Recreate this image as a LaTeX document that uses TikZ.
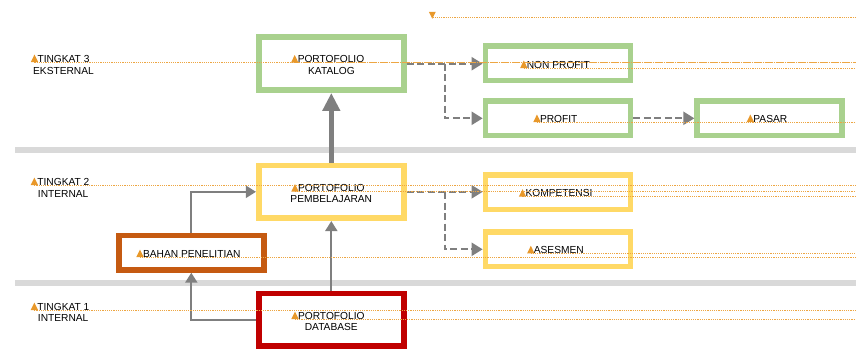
\documentclass[tikz,border=0pt]{standalone}
\usepackage{fontspec}
\setmainfont{Liberation Sans}
\usetikzlibrary{arrows.meta,calc}
\definecolor{grn}{HTML}{A9D18E}
\definecolor{ylw}{HTML}{FFD966}
\definecolor{org}{HTML}{C55A11}
\definecolor{rd}{HTML}{C00000}
\definecolor{arr}{HTML}{7F7F7F}
\definecolor{bandgray}{HTML}{D9D9D9}
\definecolor{dot}{HTML}{E8982A}
\definecolor{dotln}{HTML}{EDA643}
\begin{document}
\begin{tikzpicture}[x=1pt,y=-1pt,
  box/.style={draw,line width=5.7pt,minimum width=145pt,minimum height=34.3pt,inner sep=0pt,fill=white},
  tall/.style={minimum height=52.8pt},
  txt/.style={anchor=base,inner sep=0pt,font=\fontsize{10.2}{12}\selectfont},
  dotl/.style={draw=dotln,line width=0.95pt,dash pattern=on 1.2pt off 1pt},
  garrow/.style={draw=arr,line width=2pt,-{Triangle[length=10pt,width=12pt]}},
  darrow/.style={draw=arr,line width=2.2pt,dash pattern=on 7pt off 3.5pt,-{Triangle[length=11pt,width=13pt]}},
  ]
\useasboundingbox (0,0) rectangle (856,349);
% bands
\fill[bandgray] (15,147.3) rectangle (856,153.3);
\fill[bandgray] (15,279.5) rectangle (856,285.5);
% boxes
\node[box,tall,draw=grn] (kat) at (331.3,63.7) {};
\node[box,draw=grn] (np) at (558,63.3) {};
\node[box,draw=grn] (pr) at (558,118.3) {};
\node[box,draw=grn] (pas) at (769.7,118.3) {};
\node[box,tall,draw=ylw] (pem) at (331.3,191.8) {};
\node[box,draw=ylw] (kom) at (558,192.3) {};
\node[box,draw=ylw] (ase) at (558,249.3) {};
\node[box,draw=org] (bah) at (191.3,252.7) {};
\node[box,tall,draw=rd] (db) at (331.3,319.8) {};
% texts
\node[txt] (l3a) at (63.5,62) {TINGKAT 3};
\node[txt] (l3b) at (63.5,74) {EKSTERNAL};
\node[txt] (l2a) at (63.4,185) {TINGKAT 2};
\node[txt] (l2b) at (63.2,197) {INTERNAL};
\node[txt] (l1a) at (63.4,310) {TINGKAT 1};
\node[txt] (l1b) at (63.2,321.5) {INTERNAL};
\node[txt] (kat1) at (331,62.5) {PORTOFOLIO};
\node[txt] (kat2) at (331.5,74) {KATALOG};
\node[txt] (np1) at (558.3,68) {NON PROFIT};
\node[txt] (pr1) at (558.7,122) {PROFIT};
\node[txt] (pas1) at (770.3,122) {PASAR};
\node[txt] (pem1) at (331.3,191.5) {PORTOFOLIO};
\node[txt] (pem2) at (331.3,202.7) {PEMBELAJARAN};
\node[txt] (kom1) at (559,196.7) {KOMPETENSI};
\node[txt] (ase1) at (558.8,253.3) {ASESMEN};
\node[txt] (bah1) at (191.8,257) {BAHAN PENELITIAN};
\node[txt] (db1) at (331.3,319) {PORTOFOLIO};
\node[txt] (db2) at (331.3,330) {DATABASE};
% connectors
\draw[draw=arr,line width=5pt,-{Triangle[length=18pt,width=17pt]}] (pem.north) -- (kat.south);
\draw[garrow] (db.north) -- (pem.south);
\draw[garrow] (db.west) -| (bah.south);
\draw[garrow] (bah.north) |- (pem.west);
\coordinate (b1) at ($(kat.east)!0.5!(np.west)$);
\coordinate (b2) at ($(pem.east)!0.5!(kom.west)$);
\draw[darrow] (kat.east) -- (kat.east -| np.west);
\draw[darrow] (b1) |- (pr.west);
\draw[darrow] (pr.east) -- (pas.west);
\draw[darrow] (pem.east) -- (pem.east -| kom.west);
\draw[darrow] (b2) |- (ase.west);
% markers and dotted guide lines
\coordinate (R) at (856,0);
\foreach \n in {l3a,l2a,l1a,kat1,np1,pr1,pas1,pem1,kom1,ase1,bah1,db1}{
  \draw[dotl] ([xshift=-3pt]\n.base west) -- (\n.base west -| R);
  \fill[dot] ([xshift=-6.5pt]\n.base west) -- ([xshift=0.8pt]\n.base west) -- ([xshift=-2.85pt,yshift=7.5pt]\n.base west) -- cycle;
}
\coordinate (top) at (432.3,17.3);
\fill[dot] (428.8,11.8) -- (435.8,11.8) -- (432.3,18.8) -- cycle;
\draw[dotl] (top) -- (top -| R);
\end{tikzpicture}
\end{document}
